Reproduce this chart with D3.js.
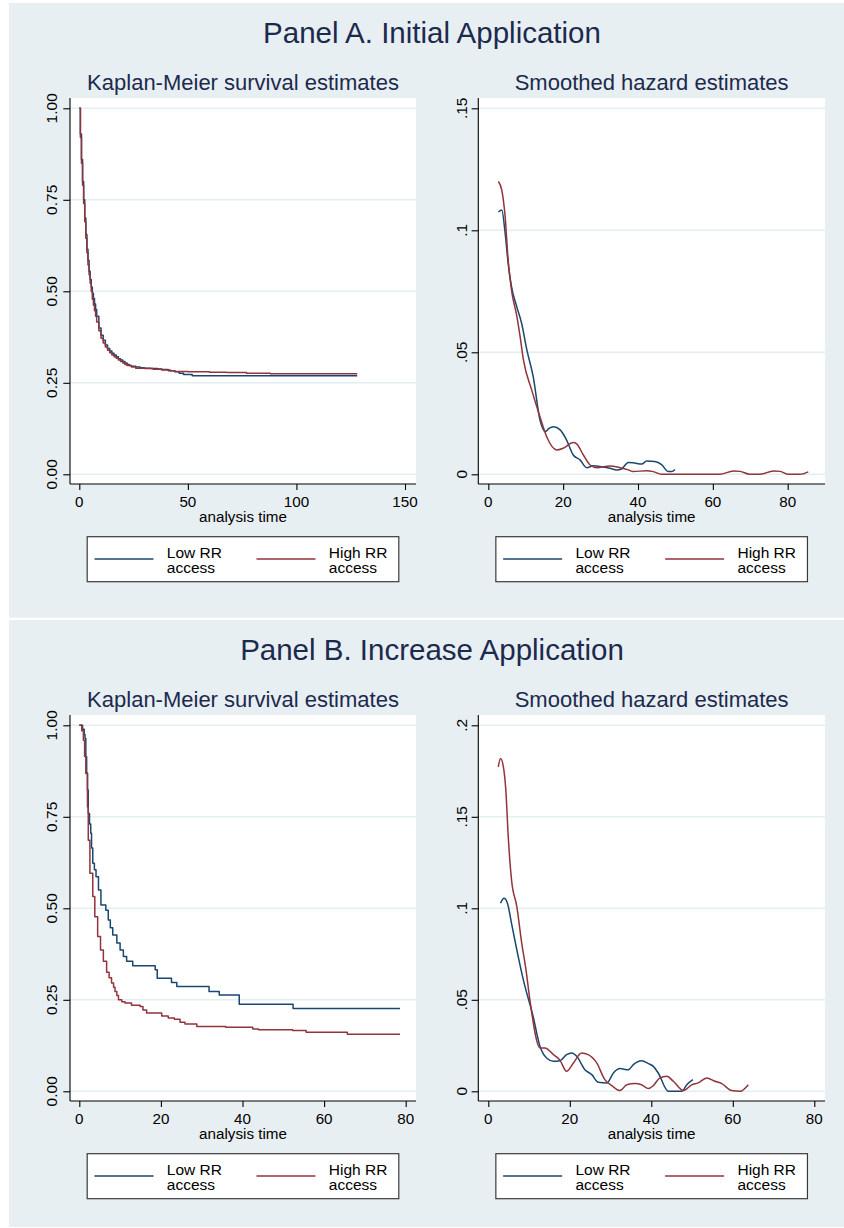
<!DOCTYPE html>
<html>
<head>
<meta charset="utf-8">
<script src="https://cdn.jsdelivr.net/npm/d3@7"></script>
<style>
  html, body { margin: 0; padding: 0; background: #ffffff; }
  svg { display: block; }
  text { font-family: "Liberation Sans", Arial, Helvetica, sans-serif; }
</style>
</head>
<body>
<svg id="chart" width="844" height="1228"></svg>
<script>
// ---------------- DATA ----------------
const panelTitles = ["Panel A. Initial Application", "Panel B. Increase Application"];
const kmTitle = "Kaplan-Meier survival estimates";
const hzTitle = "Smoothed hazard estimates";
const xAxisTitle = "analysis time";
const seriesLabels = [["Low RR", "access"], ["High RR", "access"]];

// Tick labels
const kmYTicks = [0, 0.25, 0.5, 0.75, 1];
const kmAXTicks = [0, 50, 100, 150];
const kmBXTicks = [0, 20, 40, 60, 80];
const hzAYTicks = [0, 0.05, 0.1, 0.15];
const hzBYTicks = [0, 0.05, 0.1, 0.15, 0.2];
const hzAXTicks = [0, 20, 40, 60, 80];
const hzBXTicks = [0, 20, 40, 60, 80];

// Panel A, Kaplan-Meier: [time, survival]
const kmA_low = [[0,1.0],[0.5,0.93],[1,0.86],[1.5,0.80],[2,0.75],[2.5,0.70],[3,0.655],[3.5,0.615],[4,0.585],[4.5,0.555],[5,0.532],[5.5,0.512],[6,0.495],[6.5,0.48],[7,0.465],[7.5,0.45],[8,0.432],[9,0.40],[10,0.38],[11,0.366],[12,0.353],[13,0.344],[14,0.337],[15,0.331],[16,0.326],[17,0.321],[18,0.316],[19,0.312],[20,0.308],[21,0.304],[22,0.30],[23,0.297],[24,0.295],[26,0.293],[28,0.291],[30,0.29],[33,0.289],[36,0.288],[38,0.286],[41,0.283],[44,0.28],[46,0.276],[48,0.273],[52,0.269],[128,0.269]];
const kmA_high = [[0,1.0],[0.5,0.92],[1,0.85],[1.5,0.79],[2,0.74],[2.5,0.69],[3,0.645],[3.5,0.605],[4,0.572],[4.5,0.545],[5,0.522],[5.5,0.50],[6,0.478],[6.5,0.462],[7,0.447],[7.5,0.432],[8,0.416],[9,0.392],[10,0.372],[11,0.359],[12,0.348],[13,0.339],[14,0.332],[15,0.326],[16,0.321],[17,0.317],[18,0.312],[19,0.308],[20,0.304],[21,0.30],[22,0.297],[24,0.293],[26,0.29],[30,0.289],[34,0.287],[38,0.285],[42,0.283],[44,0.281],[50,0.28],[60,0.279],[68,0.278],[77,0.276],[88,0.2745],[128,0.2745]];

// Panel B, Kaplan-Meier
const kmB_low = [[0,1.0],[0.8,0.989],[1.2,0.975],[1.4,0.964],[1.6,0.914],[1.8,0.87],[2.0,0.823],[2.2,0.759],[2.5,0.73],[2.8,0.705],[3.0,0.665],[3.3,0.623],[3.7,0.605],[4.1,0.586],[4.7,0.55],[5.3,0.509],[6.5,0.495],[7.1,0.468],[7.6,0.447],[8.2,0.427],[9.2,0.405],[10,0.386],[10.8,0.368],[11.6,0.355],[13.1,0.343],[18.6,0.332],[19.1,0.309],[22.6,0.297],[23.9,0.286],[31.8,0.273],[34.3,0.263],[39.2,0.238],[52.4,0.226],[78.6,0.226]];
const kmB_high = [[0,1.0],[0.6,0.985],[1.0,0.959],[1.3,0.915],[1.6,0.868],[2.0,0.777],[2.2,0.686],[2.6,0.596],[3.3,0.532],[3.8,0.477],[4.5,0.423],[5.2,0.386],[5.9,0.355],[6.7,0.325],[7.3,0.31],[7.9,0.296],[8.4,0.284],[8.75,0.273],[9.2,0.262],[9.6,0.25],[10.4,0.245],[11.2,0.241],[12.8,0.235],[14.9,0.232],[15.6,0.222],[16.5,0.214],[20.2,0.206],[21.8,0.20],[23.3,0.197],[24.7,0.189],[25.9,0.184],[28.8,0.177],[35.9,0.175],[42.5,0.170],[43.9,0.168],[52.3,0.166],[55.6,0.161],[65.7,0.156],[78.6,0.156]];

// Panel A, smoothed hazard: [time, hazard]
const hzA_low = [[2.7,0.1075],[3.6,0.1083],[4.5,0.0988],[5.3,0.0865],[6.2,0.0769],[7.6,0.0687],[8.9,0.0619],[10.3,0.051],[12,0.04],[13.8,0.0223],[15.2,0.0175],[16.2,0.0188],[17.4,0.0195],[19.2,0.0182],[20.9,0.0141],[22.7,0.0079],[24.5,0.0059],[26.3,0.0027],[28.1,0.0035],[30.3,0.0031],[32.5,0.0025],[34.3,0.0018],[35.6,0.0022],[37.4,0.0048],[38.7,0.0047],[41,0.0042],[42.3,0.0054],[44.5,0.0052],[46.3,0.004],[48.1,0.0011],[49,0.0011],[49.9,0.002]];
const hzA_high = [[2.7,0.120],[3.6,0.1165],[4.5,0.1056],[5.3,0.0878],[6.2,0.0755],[7.6,0.065],[8.5,0.0564],[9.4,0.0468],[11.6,0.0345],[13.8,0.0236],[15.6,0.0154],[18.3,0.0100],[20,0.0107],[22.7,0.013],[23.6,0.0125],[25.4,0.0079],[27.2,0.0038],[29,0.0027],[32.5,0.0034],[35.2,0.0027],[37.4,0.0018],[38.7,0.0011],[42.3,0.0015],[44.1,0.0011],[46.3,0.0],[61.9,0.0],[65.5,0.0014],[67.3,0.0012],[69.9,0.0],[72.6,0.0],[76.2,0.0014],[78,0.0012],[80.2,0.0],[83.3,0.0],[85.5,0.001]];

// Panel B, smoothed hazard
const hzB_low = [[3.0,0.1028],[3.85,0.1055],[4.7,0.1028],[5.7,0.0918],[7.0,0.0773],[8.6,0.0609],[11.0,0.0409],[12.7,0.0245],[14.3,0.0182],[16,0.0164],[17.6,0.0167],[19.2,0.02],[20.5,0.0209],[21.7,0.0191],[23.7,0.0118],[25.4,0.0091],[27,0.0049],[29.1,0.0046],[30.7,0.01],[32.3,0.0124],[34.4,0.0118],[35.6,0.0146],[37.6,0.0167],[39.3,0.0151],[40.5,0.0136],[41.7,0.01],[44.2,0.0],[47.5,0.0],[48.7,0.0036],[50.2,0.0064]];
const hzB_high = [[2.45,0.1773],[3.0,0.1818],[3.7,0.1773],[4.3,0.1646],[4.9,0.139],[5.7,0.1155],[7.0,0.1009],[8.2,0.081],[9.25,0.0664],[10.2,0.05],[12.7,0.0237],[13.9,0.0237],[16,0.02],[17.6,0.0169],[19.2,0.0109],[20.9,0.0155],[22.9,0.0209],[24.5,0.02],[26.6,0.0155],[28.6,0.0064],[30.3,0.0031],[32.3,0.0004],[34,0.0036],[36,0.0042],[37.6,0.0036],[39.3,0.0015],[40.5,0.0031],[42.1,0.0073],[43.8,0.0082],[45.4,0.0055],[47.9,0.0004],[49.9,0.0035],[51.5,0.0046],[53.6,0.0073],[55.6,0.0055],[57.3,0.0042],[59.7,0.0004],[61.8,0.0],[63.8,0.0036]];

// ---------------- STYLE ----------------
const BG = "#e8eff2";
const GRID = "#e4eef0";
const TITLE_COL = "#1c2a4e";
const COL_LOW = "#1a476f";
const COL_HIGH = "#90353b";
const FONT_SMALL = 15.5;

const svg = d3.select("#chart");

const panels = [
  { dy: 0, title: panelTitles[0],
    km: { low: kmA_low, high: kmA_high, xTicks: kmAXTicks, xMax: 150, xEnd: 405 },
    hz: { low: hzA_low, high: hzA_high, xTicks: hzAXTicks, yTicks: hzAYTicks, xEnd: 787.7 },
    bgTop: 3, bgBottom: 617.7 },
  { dy: 617, title: panelTitles[1],
    km: { low: kmB_low, high: kmB_high, xTicks: kmBXTicks, xMax: 80, xEnd: 405.7 },
    hz: { low: hzB_low, high: hzB_high, xTicks: hzBXTicks, yTicks: hzBYTicks, xEnd: 814.3 },
    bgTop: 620, bgBottom: 1227 }
];

const kmFmt = d3.format(".2f");
const hzFmt = v => v === 0 ? "0" : d3.format("~g")(v).replace(/^0/, "");

function drawPlot(g, o) {
  g.append("rect").attr("x", o.left).attr("y", o.top)
    .attr("width", o.right - o.left).attr("height", o.bottom - o.top)
    .attr("fill", "#ffffff");

  // gridlines
  g.append("g").selectAll("line").data(o.yTicks).join("line")
    .attr("x1", o.left).attr("x2", o.right)
    .attr("y1", d => o.y(d)).attr("y2", d => o.y(d))
    .attr("stroke", GRID).attr("stroke-width", 1.4);

  // series
  o.series.forEach(s => {
    g.append("path").datum(s.data)
      .attr("fill", "none").attr("stroke", s.color).attr("stroke-width", 1.5)
      .attr("stroke-linejoin", "round")
      .attr("d", d3.line().x(d => o.x(d[0])).y(d => o.y(d[1])).curve(s.curve));
  });

  // axes
  const yAxis = d3.axisLeft(o.y).tickValues(o.yTicks).tickSize(6.7).tickFormat("");
  const ya = g.append("g").attr("transform", `translate(${o.left},0)`).call(yAxis);
  ya.select(".domain").attr("d", `M0,${o.top}V${o.bottom}`).attr("stroke", "#000").attr("stroke-width", 1.1);
  ya.selectAll(".tick line").attr("stroke", "#000").attr("stroke-width", 1.1);

  g.append("g").selectAll("text").data(o.yTicks).join("text")
    .attr("transform", d => `translate(${o.labelX},${o.y(d)}) rotate(-90)`)
    .attr("text-anchor", "middle")
    .attr("font-size", FONT_SMALL).attr("fill", "#000")
    .text(o.fmt);

  const xAxis = d3.axisBottom(o.x).tickValues(o.xTicks).tickSize(6).tickFormat("");
  const xa = g.append("g").attr("transform", `translate(0,${o.bottom})`).call(xAxis);
  xa.select(".domain").attr("d", `M${o.left},0H${o.right}`).attr("stroke", "#000").attr("stroke-width", 1.1);
  xa.selectAll(".tick line").attr("stroke", "#000").attr("stroke-width", 1.1);

  g.append("g").selectAll("text").data(o.xTicks).join("text")
    .attr("x", d => o.x(d)).attr("y", o.bottom + 22.8)
    .attr("text-anchor", "middle")
    .attr("font-size", 15.2).attr("fill", "#000")
    .text(d => d);

  const cx = (o.left + o.right) / 2;
  g.append("text").attr("x", cx).attr("y", o.bottom + 37.6)
    .attr("text-anchor", "middle").attr("font-size", 15.2).attr("fill", "#000")
    .text(xAxisTitle);

  // subtitle
  g.append("text").attr("x", cx).attr("y", o.top - 8.5)
    .attr("text-anchor", "middle").attr("font-size", 22).attr("fill", TITLE_COL)
    .text(o.title);

  // legend
  const lw = 311.6, lx = cx - lw / 2, ly = o.bottom + 52.7;
  const lg = g.append("g");
  lg.append("rect").attr("x", lx).attr("y", ly).attr("width", lw).attr("height", 45)
    .attr("fill", "#ffffff").attr("stroke", "#3a3a3a").attr("stroke-width", 1.2);
  const entries = [
    { label: seriesLabels[0], color: COL_LOW, off: 0 },
    { label: seriesLabels[1], color: COL_HIGH, off: 162 }
  ];
  entries.forEach(e => {
    lg.append("line").attr("x1", lx + 7.3 + e.off).attr("x2", lx + 66.3 + e.off)
      .attr("y1", ly + 22.3).attr("y2", ly + 22.3)
      .attr("stroke", e.color).attr("stroke-width", 1.5);
    const t = lg.append("text").attr("font-size", FONT_SMALL).attr("fill", "#000");
    t.append("tspan").attr("x", lx + 79.6 + e.off).attr("y", ly + 21).text(e.label[0]);
    t.append("tspan").attr("x", lx + 79.6 + e.off).attr("y", ly + 36.6).text(e.label[1]);
  });
}

panels.forEach(p => {
  const g = svg.append("g");
  g.append("rect").attr("x", 9).attr("y", p.bgTop).attr("width", 835)
    .attr("height", p.bgBottom - p.bgTop).attr("fill", BG);

  g.append("text").attr("x", 432).attr("y", 43.3 + p.dy)
    .attr("text-anchor", "middle").attr("font-size", 29.5).attr("fill", TITLE_COL)
    .text(p.title);

  const top = 98 + p.dy, bottom = 484 + p.dy;
  const y0 = 474.3 + p.dy, y1 = 108.3 + p.dy;

  // Kaplan-Meier
  const xKM = d3.scaleLinear().domain([0, p.km.xMax]).range([79.3, p.km.xEnd]);
  const yKM = d3.scaleLinear().domain([0, 1]).range([y0, y1]);
  drawPlot(g, {
    left: 70, right: 416, top, bottom, x: xKM, y: yKM,
    xTicks: p.km.xTicks, yTicks: kmYTicks, fmt: kmFmt, labelX: 56.7,
    title: kmTitle,
    series: [
      { data: p.km.low, color: COL_LOW, curve: d3.curveStepAfter },
      { data: p.km.high, color: COL_HIGH, curve: d3.curveStepAfter }
    ]
  });

  // Hazard
  const hzYT = p.hz.yTicks;
  const xHZ = d3.scaleLinear().domain([0, 80]).range([488.3, p.hz.xEnd]);
  const yHZ = d3.scaleLinear().domain([0, hzYT[hzYT.length - 1]]).range([y0, y1]);
  drawPlot(g, {
    left: 478.3, right: 825, top, bottom, x: xHZ, y: yHZ,
    xTicks: p.hz.xTicks, yTicks: hzYT, fmt: hzFmt, labelX: 466.7,
    title: hzTitle,
    series: [
      { data: p.hz.low, color: COL_LOW, curve: d3.curveMonotoneX },
      { data: p.hz.high, color: COL_HIGH, curve: d3.curveMonotoneX }
    ]
  });
});
</script>
</body>
</html>
